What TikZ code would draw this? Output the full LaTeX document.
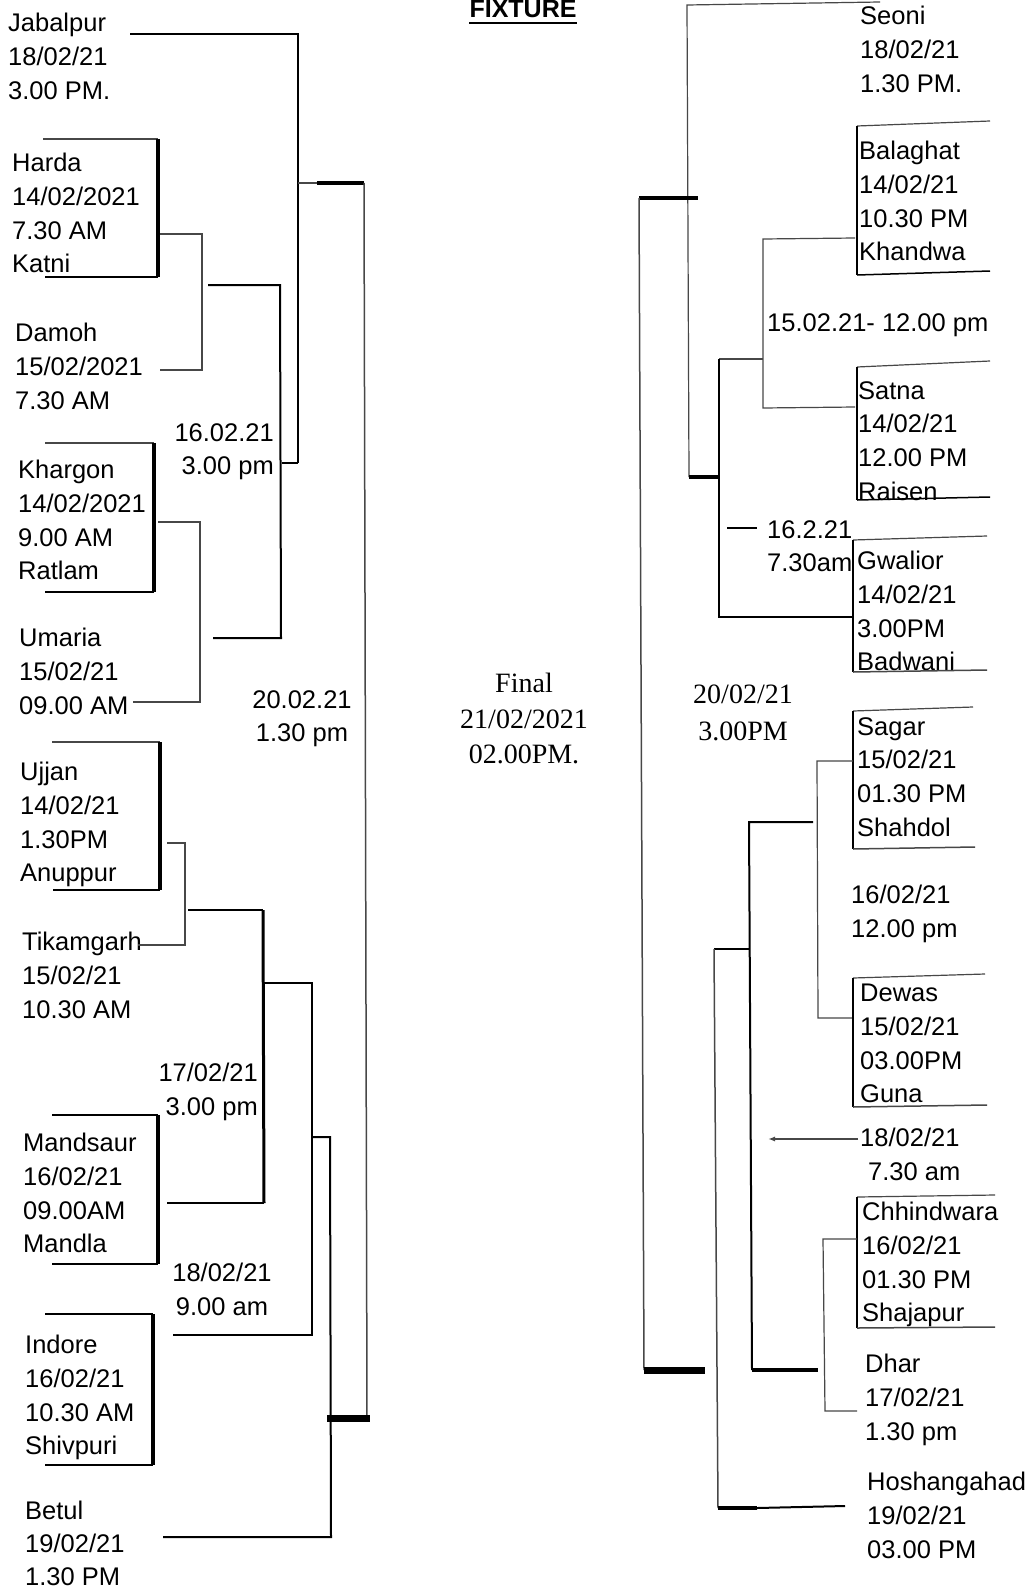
\documentclass[tikz,border=0pt]{standalone}
\usepackage{fontspec}
\setmainfont{Liberation Sans}
\newfontfamily\timesfont{Liberation Serif}
\usetikzlibrary{arrows.meta}
\begin{document}
\begin{tikzpicture}[x=1pt,y=-1pt,
  lbl/.style={anchor=north west,inner sep=0pt,align=left,font=\fontsize{25.5}{33.7}\selectfont},
  srf/.style={anchor=north,inner sep=0pt,align=center,font=\timesfont\fontsize{28}{35.5}\selectfont},
  lnA/.style={line width=1.2pt,draw=black!72},
  lnB/.style={line width=2pt,draw=black},
  lnC/.style={line width=3.5pt,draw=black},
  lnD/.style={line width=7pt,draw=black},
  line join=miter]
\useasboundingbox (0,0) rectangle (1032,1592);
\fill[white] (0,0) rectangle (1032,1592);

% ---------- title ----------
\node[anchor=base,inner sep=0pt,font=\bfseries\fontsize{25}{30}\selectfont] (fix) at (523,18) {FIXTURE};
\draw[line width=2.5pt] ([yshift=-5pt]fix.base west) -- ([yshift=-5pt]fix.base east);

% ---------- left teams ----------
\node[lbl] (jab) at (8,13) {Jabalpur\\18/02/21\\3.00 PM.};
\node[lbl] (har) at (12,153) {Harda\\14/02/2021\\7.30 AM\\Katni};
\node[lbl] (dam) at (15,323) {Damoh\\15/02/2021\\7.30 AM};
\node[lbl] (kha) at (18,460) {Khargon\\14/02/2021\\9.00 AM\\Ratlam};
\node[lbl] (uma) at (19,628) {Umaria\\15/02/21\\09.00 AM};
\node[lbl] (ujj) at (20,762) {Ujjan\\14/02/21\\1.30PM\\Anuppur};
\node[lbl] (tik) at (22,932) {Tikamgarh\\15/02/21\\10.30 AM};
\node[lbl] (man) at (23,1133) {Mandsaur\\16/02/21\\09.00AM\\Mandla};
\node[lbl] (ind) at (25,1335) {Indore\\16/02/21\\10.30 AM\\Shivpuri};
\node[lbl,font=\fontsize{25.5}{33}\selectfont] (bet) at (25,1501) {Betul\\19/02/21\\1.30 PM};

% ---------- right teams ----------
\node[lbl] (seo) at (860,6) {Seoni\\18/02/21\\1.30 PM.};
\node[lbl] (bal) at (859,141) {Balaghat\\14/02/21\\10.30 PM\\Khandwa};
\node[lbl] (sat) at (858,381) {Satna\\14/02/21\\12.00 PM\\Raisen};
\node[lbl] (gwa) at (857,551) {Gwalior\\14/02/21\\3.00PM\\Badwani};
\node[lbl] (sag) at (857,717) {Sagar\\15/02/21\\01.30 PM\\Shahdol};
\node[lbl] (dew) at (860,984) {Dewas\\15/02/21\\03.00PM\\Guna};
\node[lbl] (chh) at (862,1202) {Chhindwara\\16/02/21\\01.30 PM\\Shajapur};
\node[lbl] (dha) at (865,1354) {Dhar\\17/02/21\\1.30 pm};
\node[lbl] (hos) at (867,1472) {Hoshangahad\\19/02/21\\03.00 PM};

% ---------- match labels ----------
\node[lbl,anchor=north east,align=right] (m1) at (274,423) {16.02.21\\3.00 pm};
\node[lbl,anchor=north,align=center] (m2) at (302,690) {20.02.21\\1.30 pm};
\node[lbl,anchor=north east,align=right] (m3) at (258,1063) {17/02/21\\3.00 pm};
\node[lbl,anchor=north,align=center] (m4) at (222,1263) {18/02/21\\9.00 am};
\node[srf] (fin) at (524,673) {Final\\21/02/2021\\02.00PM.};
\node[srf,font=\timesfont\fontsize{28}{36.5}\selectfont] (m5) at (743,685) {20/02/21\\3.00PM};
\node[lbl] (m6) at (767,313) {15.02.21- 12.00 pm};
\node[lbl] (m7) at (767,520) {16.2.21\\7.30am};
\node[lbl] (m8) at (851,885) {16/02/21\\12.00 pm};
\node[lbl] (m9) at (860,1128) {18/02/21\\\hspace*{8pt}7.30 am};

% ================= LEFT BRACKET =================
\coordinate (jabE) at (130,34);
\coordinate (jabV) at (298,34);
\coordinate (jabB) at (298,463);
\coordinate (sfL) at (282,463);
\draw[lnB] (jabE) -- (jabV) -- (jabB);
\draw[lnB] (sfL) -- (jabB);
\coordinate (sfA) at (298,183);
\coordinate (sfB) at (317,183);
\coordinate (sfC) at (364,183);
\coordinate (sfD) at (367,1418);
\draw[lnA] (sfA) -- (sfB);
\draw[lnC] (sfB) -- (sfC);
\draw[lnA,line width=1.5pt] (sfC) -- (sfD);

% Harda box
\coordinate (hTL) at (43,139); \coordinate (hTR) at (158,139);
\coordinate (hBR) at (158,277); \coordinate (hBL) at (45,277);
\draw[lnA] (hTL) -- (hTR);
\draw[lnC] (hTR) -- (hBR);
\draw[lnB,line width=1.5pt] (hBL) -- (hBR);
\coordinate (hc1) at (160,234); \coordinate (hc2) at (202,234);
\coordinate (hc3) at (202,370); \coordinate (hc4) at (160,370);
\draw[lnA] (hc1) -- (hc2) -- (hc3) -- (hc4);

% round 2 upper
\coordinate (r2a) at (208,285); \coordinate (r2b) at (280,285);
\coordinate (r2c) at (281,638); \coordinate (r2d) at (213,638);
\draw[lnB] (r2a) -- (r2b) -- (r2c) -- (r2d);

% Khargon box
\coordinate (kTL) at (45,443); \coordinate (kTR) at (154,443);
\coordinate (kBR) at (154,592); \coordinate (kBL) at (45,592);
\draw[lnA] (kTL) -- (kTR);
\draw[lnC] (kTR) -- (kBR);
\draw[lnB,line width=1.5pt] (kBL) -- (kBR);
\coordinate (kc1) at (158,522); \coordinate (kc2) at (200,522);
\coordinate (kc3) at (200,702); \coordinate (kc4) at (133,702);
\draw[lnA] (kc1) -- (kc2) -- (kc3) -- (kc4);

% Ujjan box
\coordinate (uTL) at (52,742); \coordinate (uTR) at (160,742);
\coordinate (uBR) at (160,890); \coordinate (uBL) at (53,890);
\draw[lnA] (uTL) -- (uTR);
\draw[lnC] (uTR) -- (uBR);
\draw[lnB,line width=1.5pt] (uBL) -- (uBR);
\coordinate (uc1) at (167,843); \coordinate (uc2) at (185,843);
\coordinate (uc3) at (185,945); \coordinate (uc4) at (138,945);
\draw[lnA] (uc1) -- (uc2) -- (uc3) -- (uc4);

% round 2 lower
\coordinate (q1a) at (188,910); \coordinate (q1b) at (263,910);
\coordinate (q1c) at (264,1203); \coordinate (q1d) at (167,1203);
\draw[lnB,line width=1.5pt] (q1a) -- (q1b);
\draw[lnC,line width=3pt] (q1b) -- (q1c);
\draw[lnB] (q1c) -- (q1d);
\coordinate (q2a) at (263,983); \coordinate (q2b) at (312,983);
\coordinate (q2c) at (312,1335); \coordinate (q2d) at (173,1335);
\draw[lnB,line width=1.5pt] (q2a) -- (q2b) -- (q2c) -- (q2d);
\coordinate (q3a) at (312,1137); \coordinate (q3b) at (330,1137);
\coordinate (q3c) at (331,1537); \coordinate (q3d) at (163,1537);
\draw[lnB] (q3a) -- (q3b) -- (q3c) -- (q3d);
\coordinate (fA) at (327,1418); \coordinate (fB) at (370,1418);
\draw[lnD] (fA) -- (fB);

% Mandsaur box
\coordinate (mTL) at (52,1115); \coordinate (mTR) at (158,1115);
\coordinate (mBR) at (158,1264); \coordinate (mBL) at (52,1264);
\draw[lnB,line width=1.5pt] (mTL) -- (mTR);
\draw[lnC] (mTR) -- (mBR);
\draw[lnB] (mBL) -- (mBR);

% Indore box
\coordinate (iTL) at (45,1314); \coordinate (iTR) at (153,1314);
\coordinate (iBR) at (153,1465); \coordinate (iBL) at (45,1465);
\draw[lnB,line width=1.5pt] (iTL) -- (iTR);
\draw[lnC] (iTR) -- (iBR);
\draw[lnB] (iBL) -- (iBR);

% ================= RIGHT BRACKET =================
\coordinate (sA) at (880,2); \coordinate (sB) at (687,5); \coordinate (sC) at (689,477);
\draw[lnA] (sA) -- (sB) -- (sC);
\coordinate (tA) at (639,198); \coordinate (tB) at (698,198); \coordinate (tC) at (644,1370);
\draw[lnC] (tA) -- (tB);
\draw[lnA,line width=1.5pt] (tA) -- (tC);
\coordinate (fD) at (705,1370);
\draw[lnD] (tC) -- (fD);

% Balaghat box
\coordinate (bTR) at (990,121); \coordinate (bTL) at (857,126);
\coordinate (bBL) at (857,275); \coordinate (bBR) at (990,271);
\draw[lnA] (bTR) -- (bTL);
\draw[lnC,line width=2.8pt] (bTL) -- (bBL);
\draw[lnB,line width=1.5pt] (bBL) -- (bBR);
\coordinate (bc1) at (855,238); \coordinate (bc2) at (763,239);
\coordinate (bc3) at (763,408); \coordinate (bc4) at (855,407);
\draw[lnA] (bc1) -- (bc2) -- (bc3) -- (bc4);

\coordinate (pA) at (719,359); \coordinate (pB) at (763,359);
\coordinate (pC) at (719,617); \coordinate (pD) at (853,617);
\draw[lnA,line width=1.5pt] (pA) -- (pB);
\draw[lnB] (pA) -- (pC) -- (pD);
\coordinate (pE) at (689,477); \coordinate (pF) at (719,477);
\draw[lnC] (pE) -- (pF);

% Satna box
\coordinate (stR) at (990,361); \coordinate (stL) at (857,367);
\coordinate (sbL) at (857,500); \coordinate (sbR) at (990,497);
\draw[lnA] (stR) -- (stL);
\draw[lnC,line width=2.8pt] (stL) -- (sbL);
\draw[lnB,line width=1.5pt] (sbL) -- (sbR);
\coordinate (dA) at (727,528); \coordinate (dB) at (757,528);
\draw[lnB] (dA) -- (dB);

% Gwalior box
\coordinate (gTR) at (987,536); \coordinate (gTL) at (853,540);
\coordinate (gBL) at (853,672); \coordinate (gBR) at (987,670);
\draw[lnA] (gTR) -- (gTL);
\draw[lnC,line width=2.8pt] (gTL) -- (gBL);
\draw[lnA,line width=1.5pt] (gBL) -- (gBR);

% Sagar box
\coordinate (saTR) at (973,707); \coordinate (saTL) at (853,711);
\coordinate (saBL) at (853,849); \coordinate (saBR) at (975,847);
\draw[lnA] (saTR) -- (saTL);
\draw[lnC,line width=2.8pt] (saTL) -- (saBL);
\draw[lnA,line width=1.5pt] (saBL) -- (saBR);
\coordinate (sc1) at (853,761); \coordinate (sc2) at (817,761);
\coordinate (sc3) at (818,1018); \coordinate (sc4) at (853,1018);
\draw[lnA] (sc1) -- (sc2) -- (sc3) -- (sc4);

\coordinate (wA) at (813,822); \coordinate (wB) at (749,822);
\coordinate (wC) at (752,1370); \coordinate (wD) at (818,1370);
\draw[lnB] (wA) -- (wB) -- (wC);
\draw[lnC] (wC) -- (wD);
\coordinate (xA) at (749,949); \coordinate (xB) at (714,949);
\coordinate (xC) at (718,1508); \coordinate (xD) at (757,1508); \coordinate (xE) at (845,1506);
\draw[lnB] (xA) -- (xB);
\draw[lnA,line width=1.5pt] (xB) -- (xC);
\draw[lnC] (xC) -- (xD);
\draw[lnB] (xD) -- (xE);

% Dewas box
\coordinate (dTR) at (985,974); \coordinate (dTL) at (853,978);
\coordinate (dBL) at (853,1107); \coordinate (dBR) at (987,1105);
\draw[lnA] (dTR) -- (dTL);
\draw[lnC,line width=2.8pt] (dTL) -- (dBL);
\draw[lnA,line width=1.5pt] (dBL) -- (dBR);
\coordinate (aA) at (858,1139); \coordinate (aB) at (768,1139);
\draw[lnA,line width=1.5pt,-{Latex[length=7pt,width=5pt]}] (aA) -- (aB);

% Chhindwara box
\coordinate (cTR) at (995,1195); \coordinate (cTL) at (857,1197);
\coordinate (cBL) at (857,1328); \coordinate (cBR) at (995,1327);
\draw[lnA] (cTR) -- (cTL);
\draw[lnC,line width=2.8pt] (cTL) -- (cBL);
\draw[lnA,line width=1.5pt] (cBL) -- (cBR);
\coordinate (cc1) at (857,1239); \coordinate (cc2) at (823,1239);
\coordinate (cc3) at (825,1411); \coordinate (cc4) at (857,1411);
\draw[lnA] (cc1) -- (cc2) -- (cc3) -- (cc4);
\end{tikzpicture}
\end{document}
